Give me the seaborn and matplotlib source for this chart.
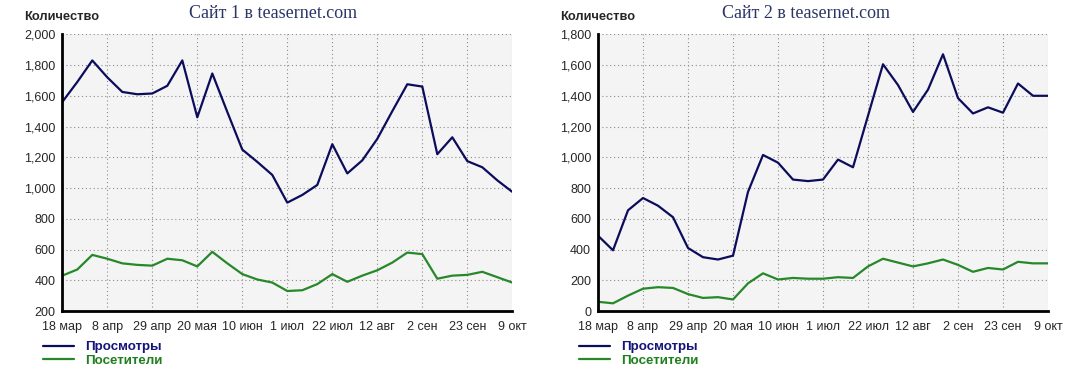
import matplotlib
matplotlib.use('Agg')
import matplotlib.pyplot as plt
import numpy as np
import pandas as pd
import seaborn as sns

# weekly points, 18 Mar .. 9 Oct
tick_labels = ['18 мар', '8 апр', '29 апр', '20 мая', '10 июн', '1 июл',
               '22 июл', '12 авг', '2 сен', '23 сен', '9 окт']

site1_views = [1560, 1690, 1830, 1720, 1625, 1610, 1615, 1665, 1830, 1460, 1745,
               1495, 1250, 1170, 1085, 905, 955, 1020, 1285, 1095, 1180,
               1320, 1500, 1675, 1660, 1220, 1330, 1175, 1135, 1050, 975]
site1_visitors = [430, 470, 565, 540, 510, 500, 495, 540, 530, 490, 585,
                  510, 440, 405, 385, 330, 335, 375, 440, 390, 430,
                  465, 515, 580, 570, 410, 430, 435, 455, 420, 385]

site2_views = [490, 395, 655, 735, 685, 610, 410, 350, 335, 360, 775,
               1015, 965, 855, 845, 855, 985, 935, 1270, 1605, 1470,
               1295, 1440, 1670, 1385, 1285, 1325, 1290, 1480, 1400, 1400]
site2_visitors = [60, 50, 100, 145, 155, 150, 110, 85, 90, 75, 180,
                  245, 205, 215, 210, 210, 220, 215, 290, 340, 315,
                  290, 310, 335, 300, 255, 280, 270, 320, 310, 310]

titles = ['Сайт 1 в teasernet.com', 'Сайт 2 в teasernet.com']
series_names = ['Просмотры', 'Посетители']
colors = {'Просмотры': '#0c0c5c', 'Посетители': '#27882a'}
text_colors = {'Просмотры': '#14147a', 'Посетители': '#1f7f1f'}

sns.set_style('white')
plt.rcParams['font.family'] = ['Liberation Sans', 'DejaVu Sans']


def make_df(views, visitors):
    week = np.arange(len(views))
    return pd.concat([
        pd.DataFrame({'week': week, 'value': views, 'series': series_names[0]}),
        pd.DataFrame({'week': week, 'value': visitors, 'series': series_names[1]}),
    ])


fig = plt.figure(figsize=(10.71, 3.71), dpi=100)

panels = [
    (make_df(site1_views, site1_visitors), 62.3, (200, 2000), 273),
    (make_df(site2_views, site2_visitors), 598, (0, 1800), 806),
]

W, H = 1071, 371
for i, (df, left_px, ylim, title_x) in enumerate(panels):
    ax = fig.add_axes([left_px / W, 1 - 311 / H, 450 / W, (311 - 34.3) / H])
    ax.set_facecolor('#f4f4f4')
    sns.lineplot(data=df, x='week', y='value', hue='series', palette=colors,
                 linewidth=1.6, legend=False, ax=ax)
    ax.set_xlim(0, 30)
    ax.set_ylim(*ylim)
    ax.set_xticks(np.arange(0, 31, 3))
    ax.set_xticklabels(tick_labels)
    ax.set_yticks(np.arange(ylim[0], ylim[1] + 1, 200))
    ax.set_yticklabels([f'{v:,}' for v in range(ylim[0], ylim[1] + 1, 200)])
    ax.set_xlabel('')
    ax.set_ylabel('')
    ax.grid(True, color='#8c8c8c', linestyle=(0, (1, 2.5)), linewidth=0.8)
    for s in ['top', 'right']:
        ax.spines[s].set_visible(False)
    for s in ['left', 'bottom']:
        ax.spines[s].set_linewidth(2)
        ax.spines[s].set_color('black')
    ax.tick_params(axis='both', direction='out', length=3, width=1,
                   color='black', labelsize=9, pad=2)
    ax.tick_params(axis='x', pad=4)

    # labels above the plot
    fig.text((left_px - 38) / W, 1 - 17 / H, 'Количество', fontsize=9.3,
             fontweight='bold', va='center', ha='left')
    fig.text(title_x / W, 1 - 14 / H, titles[i], fontsize=13,
             family='Liberation Serif', color='#2b3566', ha='center', va='center')

    # legend below
    handles = [plt.Line2D([], [], color=colors[n], linewidth=1.6) for n in series_names]
    leg = fig.legend(handles, series_names, loc='upper left',
                     bbox_to_anchor=((left_px - 19) / W, 1 - 341 / H),
                     frameon=False, handlelength=2.3, handletextpad=0.85,
                     labelspacing=0.1, borderpad=0, borderaxespad=0,
                     prop={'weight': 'bold', 'size': 9.6})
    for t, n in zip(leg.get_texts(), series_names):
        t.set_color(text_colors[n])

fig.savefig('out.png', dpi=100)
